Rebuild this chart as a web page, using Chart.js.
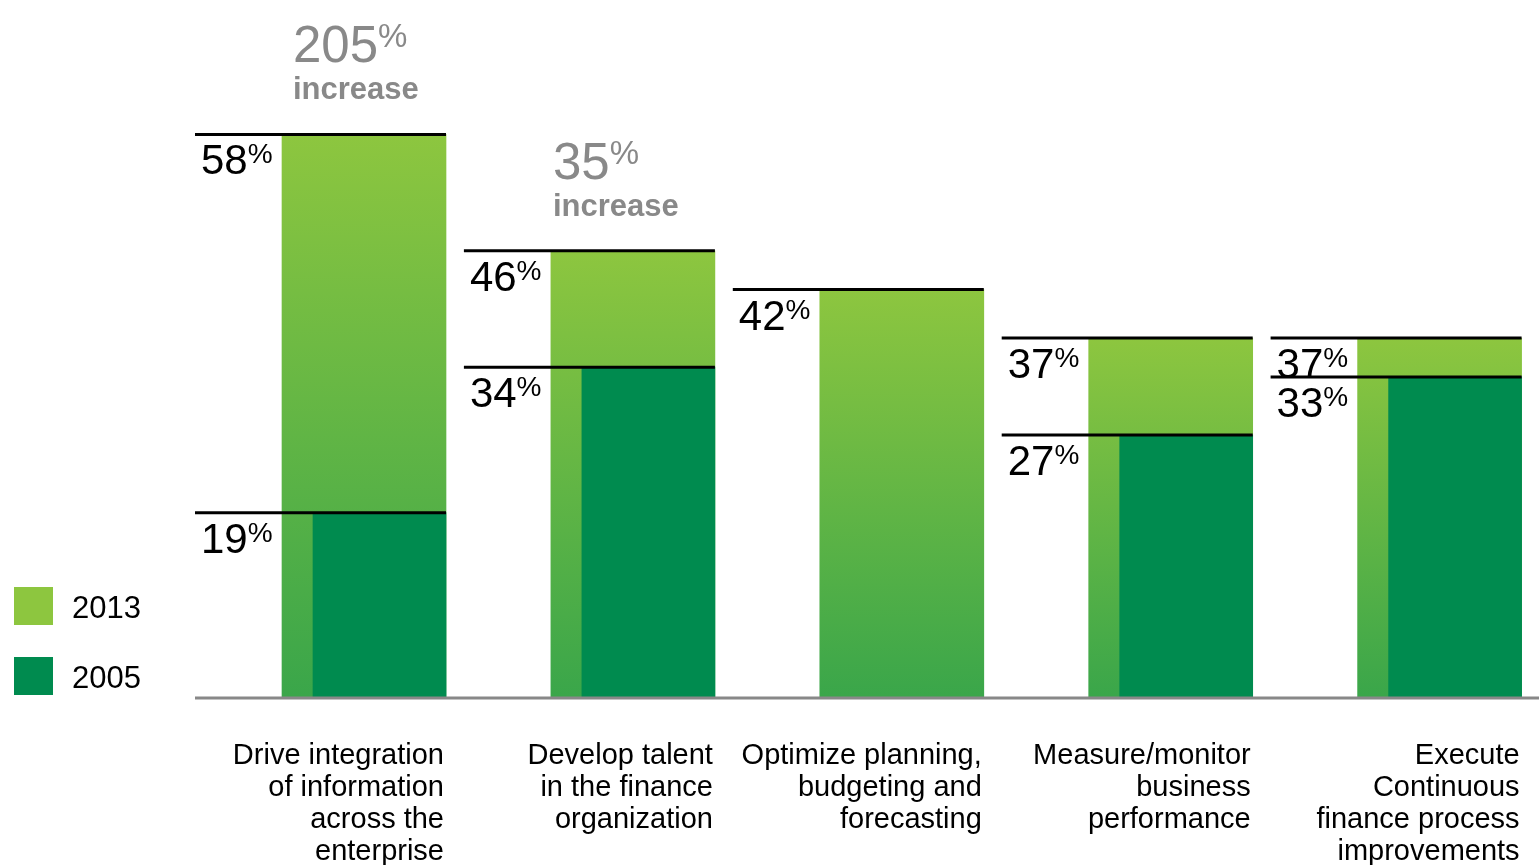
<!DOCTYPE html>
<html>
<head>
<meta charset="utf-8">
<title>Finance priorities 2005 vs 2013</title>
<script src="https://cdn.jsdelivr.net/npm/chart.js@4.4.1/dist/chart.umd.min.js"></script>
<style>
  html, body { margin: 0; padding: 0; background: #ffffff; overflow: hidden; }
  #wrap { width: 1539px; height: 865px; }
</style>
</head>
<body>
<div id="wrap"><canvas id="chart1" width="1539" height="865"></canvas></div>
<script>
// dados do grafico
const categorias = [
    ['Drive integration', 'of information', 'across the', 'enterprise'],
    ['Develop talent', 'in the finance', 'organization'],
    ['Optimize planning,', 'budgeting and', 'forecasting'],
    ['Measure/monitor', 'business', 'performance'],
    ['Execute', 'Continuous', 'finance process', 'improvements']
];
const anos = ['2013', '2005'];
const valores2013 = [58, 46, 42, 37, 37];
const valores2005 = [19, 34, null, 27, 33];
const aumento = [205, 35, null, null, null]; // % de aumento escrito acima das barras

// layout (px)
const areaEsq = 195, areaDir = 1539;
const passo = 268.9;        // distancia entre categorias
const centro1 = 169;        // centro da 1a barra 2013 a partir da esquerda da area
const desloc2005 = 15.5;    // barra 2005 alinhada a direita da barra 2013
const larg2013 = 164, larg2005 = 133;
const recuoLinha = 87;      // linha preta passa a esquerda da barra
const deslocAumento = [11, 2];

const areaW = areaDir - areaEsq;
const corClara = '#8dc63f', corEscura = '#008b4f', corBase = '#3aa64a';
const fonte = '"Liberation Sans", Arial, Helvetica, sans-serif';

function pontos(vals) {
    return vals.map((v, i) => ({ x: i, y: v }));
}

// texto com % em sobrescrito
function textoPct(ctx, num, x, base, tam, tamPct, subida, cor, negrito) {
    ctx.fillStyle = cor;
    ctx.textAlign = 'left';
    ctx.textBaseline = 'alphabetic';
    ctx.font = (negrito ? 'bold ' : '') + tam + 'px ' + fonte;
    const txt = String(num);
    ctx.fillText(txt, x, base);
    const w = ctx.measureText(txt).width;
    ctx.font = tamPct + 'px ' + fonte;
    ctx.fillText('%', x + w, base - subida);
}

const desenhos = {
    id: 'desenhos',
    afterDatasetsDraw(chart) {
        const ctx = chart.ctx;
        const ca = chart.chartArea;
        const meta13 = chart.getDatasetMeta(0);
        const meta05 = chart.getDatasetMeta(1);
        ctx.save();

        // linha de base
        ctx.strokeStyle = '#888888';
        ctx.lineWidth = 3;
        ctx.beginPath();
        ctx.moveTo(ca.left, ca.bottom + 1);
        ctx.lineTo(areaDir, ca.bottom + 1);
        ctx.stroke();

        meta13.data.forEach((bar, i) => {
            const dir = bar.x + bar.width / 2;
            const esq = bar.x - bar.width / 2;
            const iniLinha = esq - recuoLinha;

            const linhas = [{ y: bar.y, v: valores2013[i] }];
            const b05 = meta05.data[i];
            if (valores2005[i] !== null && b05) linhas.push({ y: b05.y, v: valores2005[i] });

            linhas.forEach(l => {
                ctx.strokeStyle = '#000000';
                ctx.lineWidth = 3;
                ctx.beginPath();
                ctx.moveTo(iniLinha, l.y);
                ctx.lineTo(dir, l.y);
                ctx.stroke();
                textoPct(ctx, l.v, iniLinha + 6, l.y + 40, 42, 28, 11, '#000000', false);
            });

            // aumento
            if (aumento[i] !== null) {
                const x = esq + (deslocAumento[i] || 0);
                textoPct(ctx, aumento[i], x, bar.y - 72, 51, 33, 15, '#898989', false);
                ctx.font = 'bold 31px ' + fonte;
                ctx.fillStyle = '#898989';
                ctx.fillText('increase', x, bar.y - 35);
            }

            // rotulo da categoria
            ctx.fillStyle = '#000000';
            ctx.font = '29px ' + fonte;
            ctx.textAlign = 'right';
            categorias[i].forEach((t, k) => {
                ctx.fillText(t, dir - 2, 764 + k * 32);
            });
        });

        // legenda
        chart.data.datasets.forEach((ds, k) => {
            const y = 587 + k * 70;
            ctx.fillStyle = ds.corLegenda;
            ctx.fillRect(14, y, 39, 38);
            ctx.fillStyle = '#000000';
            ctx.textAlign = 'left';
            ctx.font = '31px ' + fonte;
            ctx.fillText(ds.label, 72, y + 31);
        });
        ctx.restore();
    }
};

const ctx1 = document.getElementById('chart1').getContext('2d');
const chart1 = new Chart(ctx1, {
    type: 'bar',
    data: {
        datasets: [{
            label: anos[0],
            data: pontos(valores2013),
            xAxisID: 'x',
            grouped: false,
            barThickness: larg2013,
            order: 1,
            corLegenda: corClara,
            backgroundColor: (c) => {
                const ch = c.chart;
                if (!ch.chartArea || !c.parsed) return corClara;
                const ys = ch.scales.y;
                const topo = ys.getPixelForValue(c.parsed.y);
                const fundo = ys.getPixelForValue(0);
                const g = ch.ctx.createLinearGradient(0, topo, 0, fundo);
                g.addColorStop(0, corClara);
                g.addColorStop(1, corBase);
                return g;
            }
        }, {
            label: anos[1],
            data: pontos(valores2005),
            xAxisID: 'x2',
            grouped: false,
            barThickness: larg2005,
            order: 0,
            corLegenda: corEscura,
            backgroundColor: corEscura
        }]
    },
    options: {
        responsive: false,
        animation: false,
        devicePixelRatio: 1,
        layout: { padding: { left: areaEsq, right: 0, top: 18, bottom: 865 - 697 } },
        plugins: { legend: { display: false }, tooltip: { enabled: false } },
        scales: {
            x: {
                type: 'linear', display: false, offset: false,
                min: -centro1 / passo, max: (areaW - centro1) / passo
            },
            x2: {
                type: 'linear', display: false, offset: false,
                min: -(centro1 + desloc2005) / passo, max: (areaW - centro1 - desloc2005) / passo
            },
            y: { display: false, min: 0, max: 70 }
        }
    },
    plugins: [desenhos]
});
</script>
</body>
</html>
